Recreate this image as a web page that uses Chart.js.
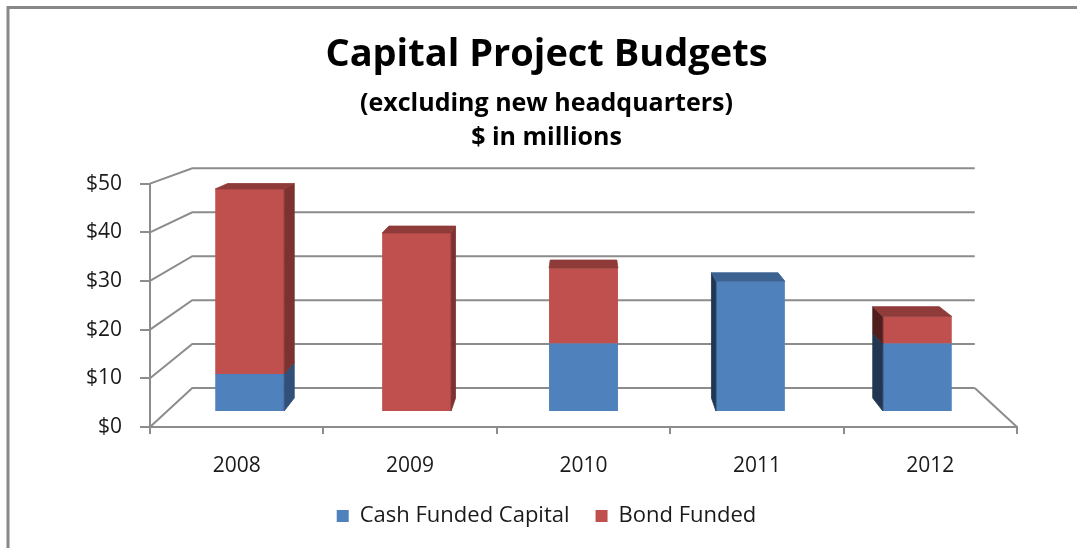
<!DOCTYPE html>
<html>
<head>
<meta charset="utf-8">
<title>Capital Project Budgets</title>
<script src="https://cdn.jsdelivr.net/npm/chart.js@4"></script>
<style>
	html, body { margin: 0; padding: 0; background: #fff; }
	canvas { display: block; }
</style>
</head>
<body>
<canvas id="budgetChart" width="1077" height="548"></canvas>
<script>
const years = ['2008', '2009', '2010', '2011', '2012'];
const cashFunded = [8.1, 0, 14.6, 27.9, 14.6];
const bondFunded = [39.5, 38.2, 16.1, 0, 5.8];
const yTicks = [0, 10, 20, 30, 40, 50];

Chart.defaults.font.family = '"Open Sans", Lato, sans-serif';
Chart.defaults.color = '#1a1a1a';

// fake 3-D: everything is pulled toward a vanishing point by a depth factor
const HORIZON_Y = 27;
const WALL = 0.9025;        // back wall
const BAR_FRONT = 0.9625;   // front face of the columns
const BAR_BACK = 0.93;      // back face of the columns
const GRID = '#8c8c8c';

const faceColors = {
	cash: { front: '#4f81bd', right: '#30507a', left: '#203651', top: '#3c6292' },
	bond: { front: '#c0504d', right: '#7d3130', left: '#4f1e1d', top: '#8f3b39' }
};

const vanish = (chart) => ({ x: (chart.chartArea.left + chart.chartArea.right) / 2, y: HORIZON_Y });
const proj = (vp, x, y, k) => ({ x: vp.x + (x - vp.x) * k, y: vp.y + (y - vp.y) * k });

function quad(ctx, pts, color) {
	ctx.beginPath();
	ctx.moveTo(pts[0].x, pts[0].y);
	pts.slice(1).forEach(p => ctx.lineTo(p.x, p.y));
	ctx.closePath();
	ctx.fillStyle = color;
	ctx.fill();
	ctx.strokeStyle = color;
	ctx.lineWidth = 0.8;
	ctx.stroke();
}

const frame = {
	id: 'frame',
	beforeDraw(chart) {
		const { ctx, width, height } = chart;
		ctx.save();
		ctx.fillStyle = '#fff';
		ctx.fillRect(0, 0, width, height);
		ctx.strokeStyle = '#888';
		ctx.lineWidth = 3;
		ctx.beginPath();
		ctx.moveTo(8, height);
		ctx.lineTo(8, 7.5);
		ctx.lineTo(width, 7.5);
		ctx.stroke();
		ctx.restore();
	}
};

const depth = {
	id: 'depth',
	beforeDatasetsDraw(chart) {
		const { ctx, chartArea: a, scales: { y } } = chart;
		const vp = vanish(chart);

		// left wall and back wall grid lines
		ctx.save();
		ctx.strokeStyle = GRID;
		ctx.lineWidth = 2;
		y.ticks.forEach(t => {
			const py = y.getPixelForValue(t.value);
			const b1 = proj(vp, a.left, py, WALL);
			const b2 = proj(vp, a.right, py, WALL);
			ctx.beginPath();
			ctx.moveTo(a.left, py);
			ctx.lineTo(b1.x, b1.y);
			ctx.lineTo(b2.x, b2.y);
			ctx.stroke();
		});
		// right edge of the floor
		const fr = proj(vp, a.right, a.bottom, WALL);
		ctx.beginPath();
		ctx.moveTo(a.right, a.bottom);
		ctx.lineTo(fr.x, fr.y);
		ctx.stroke();
		ctx.restore();

		// columns are drawn a little behind the front plane
		ctx.save();
		ctx.translate(vp.x * (1 - BAR_FRONT), vp.y * (1 - BAR_FRONT));
		ctx.scale(BAR_FRONT, BAR_FRONT);
	},
	afterDatasetsDraw(chart) {
		const { ctx } = chart;
		ctx.restore();
		const vp = vanish(chart);
		const sets = chart.data.datasets;

		ctx.save();
		sets.forEach((ds, di) => {
			const meta = chart.getDatasetMeta(di);
			meta.data.forEach((bar, i) => {
				if (!ds.data[i]) return;
				const { x, y, base, width } = bar.getProps(['x', 'y', 'base', 'width'], true);
				const l = x - width / 2, r = x + width / 2;
				const top = Math.min(y, base), bot = Math.max(y, base);
				const c = faceColors[ds.key];
				const P = (px, py, k) => proj(vp, px, py, k);

				if (r < vp.x - 2) {
					quad(ctx, [P(r, top, BAR_FRONT), P(r, bot, BAR_FRONT), P(r, bot, BAR_BACK), P(r, top, BAR_BACK)], c.right);
				} else if (l > vp.x + 2) {
					quad(ctx, [P(l, top, BAR_FRONT), P(l, bot, BAR_FRONT), P(l, bot, BAR_BACK), P(l, top, BAR_BACK)], c.left);
				}

				const topSet = sets.reduce((t, d, j) => (d.data[i] ? j : t), -1);
				if (topSet === di) {
					quad(ctx, [P(l, top, BAR_FRONT), P(r, top, BAR_FRONT), P(r, top, BAR_BACK), P(l, top, BAR_BACK)], c.top);
				}
			});
		});
		ctx.restore();
	}
};

new Chart(document.getElementById('budgetChart'), {
	type: 'bar',
	data: {
		labels: years,
		datasets: [
			{
				key: 'cash',
				label: 'Cash Funded Capital',
				data: cashFunded,
				backgroundColor: faceColors.cash.front,
				borderWidth: 0,
				clip: false,
				barPercentage: 0.413,
				categoryPercentage: 1
			},
			{
				key: 'bond',
				label: 'Bond Funded',
				data: bondFunded,
				backgroundColor: faceColors.bond.front,
				borderWidth: 0,
				clip: false,
				barPercentage: 0.413,
				categoryPercentage: 1
			}
		]
	},
	options: {
		responsive: false,
		animation: false,
		devicePixelRatio: 1,
		layout: { padding: { left: 16, right: 0, top: 0, bottom: 11 } },
		scales: {
			x: {
				stacked: true,
				grid: { offset: true, drawOnChartArea: false, tickLength: 7, color: GRID, lineWidth: 2 },
				border: { color: GRID, width: 2 },
				ticks: { padding: 19, font: { size: 21 } },
				afterFit(s) { s.height = 52; }
			},
			y: {
				stacked: true,
				min: 0,
				max: 50,
				afterBuildTicks(s) { s.ticks = yTicks.map(v => ({ value: v })); },
				ticks: { padding: 18, font: { size: 21 }, callback: v => '$' + v },
				grid: { drawOnChartArea: false, tickLength: 10, color: GRID, lineWidth: 2 },
				border: { color: GRID, width: 2 },
				afterFit(s) { s.width = 134; }
			},
			yRight: {
				position: 'right',
				min: 0,
				max: 1,
				grid: { display: false },
				ticks: { display: false },
				border: { display: false },
				afterFit(s) { s.width = 60; }
			}
		},
		plugins: {
			title: {
				display: true,
				text: 'Capital Project Budgets',
				color: '#000',
				font: { size: 38, weight: 'bold', lineHeight: 1.2 },
				padding: { top: 32, bottom: 0 }
			},
			subtitle: {
				display: true,
				text: ['(excluding new headquarters)', '$ in millions'],
				color: '#000',
				font: { size: 25, weight: 'bold', lineHeight: 1.36 },
				padding: { top: 9, bottom: 29 }
			},
			legend: {
				position: 'bottom',
				labels: { boxWidth: 12, boxHeight: 12, padding: 26, color: '#1a1a1a', font: { size: 22 } }
			},
			tooltip: { enabled: false }
		}
	},
	plugins: [frame, depth]
});
</script>
</body>
</html>
